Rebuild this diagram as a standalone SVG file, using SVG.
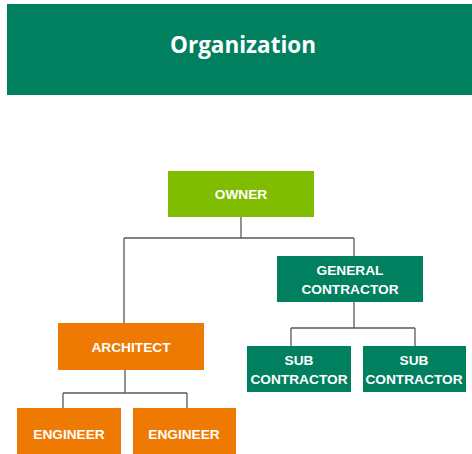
<svg xmlns="http://www.w3.org/2000/svg" width="472" height="454" viewBox="0 0 472 454">
  <style>
    .lbl { font-family: "Liberation Sans", Arial, sans-serif; font-weight: bold; font-size: 13.7px; fill: #ffffff; text-anchor: middle; }
    .title { font-family: "Open Sans", "Liberation Sans", sans-serif; font-weight: bold; font-size: 22.5px; fill: #ffffff; text-anchor: middle; }
    .green { fill: #01805f; }
    .lime { fill: #80bc00; }
    .orange { fill: #ee7a04; }
    .conn { fill: none; stroke: #595959; stroke-width: 1.3; }
  </style>
  <rect width="472" height="454" fill="#ffffff"/>
  <g id="header">
    <rect class="green" x="7" y="4" width="465" height="91"/>
    <text class="title" x="243" y="53">Organization</text>
  </g>
  <g id="connectors">
    <path class="conn" d="M241 217 V238 M124 238 H354 M124 238 V323 M354 238 V256"/>
    <path class="conn" d="M354 302 V328 M291 328 H415 M291 328 V346 M415 328 V346"/>
    <path class="conn" d="M125 370 V393 M63 393 H187 M63 393 V408 M187 393 V408"/>
  </g>
  <g id="owner">
    <rect class="lime" x="168" y="171" width="146" height="46"/>
    <text class="lbl" x="241" y="199">OWNER</text>
  </g>
  <g id="general-contractor">
    <rect class="green" x="277" y="256" width="146" height="46"/>
    <text class="lbl" x="350" y="275">GENERAL</text>
    <text class="lbl" x="350" y="293.5">CONTRACTOR</text>
  </g>
  <g id="architect">
    <rect class="orange" x="58" y="323" width="146" height="47"/>
    <text class="lbl" x="131" y="352">ARCHITECT</text>
  </g>
  <g id="sub-contractor-1">
    <rect class="green" x="247" y="346" width="104" height="46"/>
    <text class="lbl" x="299" y="365">SUB</text>
    <text class="lbl" x="299" y="383.5">CONTRACTOR</text>
  </g>
  <g id="sub-contractor-2">
    <rect class="green" x="363" y="346" width="103" height="46"/>
    <text class="lbl" x="414" y="365">SUB</text>
    <text class="lbl" x="414" y="383.5">CONTRACTOR</text>
  </g>
  <g id="engineer-1">
    <rect class="orange" x="17" y="408" width="104" height="46"/>
    <text class="lbl" x="69" y="439">ENGINEER</text>
  </g>
  <g id="engineer-2">
    <rect class="orange" x="133" y="408" width="103" height="46"/>
    <text class="lbl" x="184" y="439">ENGINEER</text>
  </g>
</svg>
